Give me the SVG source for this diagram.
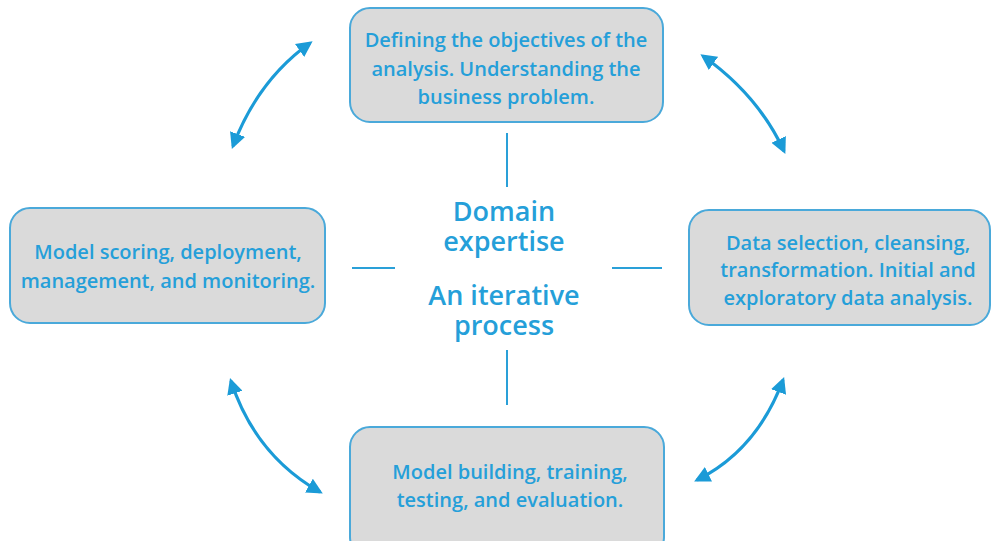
<svg xmlns="http://www.w3.org/2000/svg" width="992" height="541" viewBox="0 0 992 541">
  <style>
    .box { fill: #dadada; stroke: #4aa9da; stroke-width: 2; }
    .lbl { font-family: "Open Sans", "Liberation Sans", sans-serif; font-weight: 600; font-size: 20px; fill: #259fd9; text-anchor: middle; }
    .big { font-family: "Open Sans", "Liberation Sans", sans-serif; font-weight: 600; font-size: 27px; fill: #259fd9; text-anchor: middle; }
    .tick { stroke: #2aa0d8; stroke-width: 2; fill: none; }
    .arc { stroke: #1b9bd7; stroke-width: 3.2; fill: none; marker-start: url(#head); marker-end: url(#head); }
  </style>
  <defs>
    <marker id="head" viewBox="0 0 10 10" refX="8" refY="5" markerWidth="5" markerHeight="5" orient="auto-start-reverse" markerUnits="strokeWidth">
      <path d="M0,0 L10,5 L0,10 z" fill="#1b9bd7"/>
    </marker>
  </defs>
  <rect width="992" height="541" fill="#ffffff"/>

  <g id="node-objectives">
    <rect class="box" x="350" y="8" width="313" height="114" rx="20"/>
    <text class="lbl" x="506" y="47">Defining the objectives of the</text>
    <text class="lbl" x="506" y="76">analysis. Understanding the</text>
    <text class="lbl" x="506" y="104">business problem.</text>
  </g>

  <g id="node-data">
    <rect class="box" x="689" y="210" width="301" height="115" rx="20"/>
    <text class="lbl" x="848" y="250">Data selection, cleansing,</text>
    <text class="lbl" x="848" y="277">transformation. Initial and</text>
    <text class="lbl" x="848" y="305">exploratory data analysis.</text>
  </g>

  <g id="node-building">
    <rect class="box" x="350" y="427" width="314" height="130" rx="20"/>
    <text class="lbl" x="510" y="479">Model building, training,</text>
    <text class="lbl" x="510" y="507">testing, and evaluation.</text>
  </g>

  <g id="node-scoring">
    <rect class="box" x="10" y="208" width="315" height="115" rx="20"/>
    <text class="lbl" x="168" y="259">Model scoring, deployment,</text>
    <text class="lbl" x="168" y="288">management, and monitoring.</text>
  </g>

  <g id="node-center">
    <text class="big" x="504" y="221">Domain</text>
    <text class="big" x="504" y="251">expertise</text>
    <text class="big" x="504" y="305">An iterative</text>
    <text class="big" x="504" y="335">process</text>
  </g>

  <g id="connectors">
    <line class="tick" x1="507" y1="133" x2="507" y2="187"/>
    <line class="tick" x1="507" y1="350" x2="507" y2="405"/>
    <line class="tick" x1="352" y1="268" x2="395" y2="268"/>
    <line class="tick" x1="612" y1="268" x2="662" y2="268"/>
    <path class="arc" d="M310,43 Q258,80 233,146"/>
    <path class="arc" d="M703,56 Q758,95 784,151"/>
    <path class="arc" d="M231,381 Q255,455 320,492"/>
    <path class="arc" d="M783,380 Q757,450 697,480"/>
  </g>
</svg>
